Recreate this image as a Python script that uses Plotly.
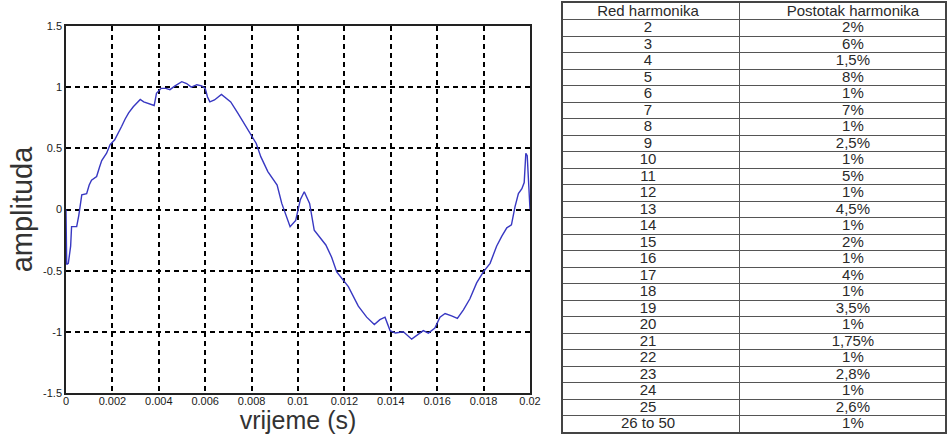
import plotly.graph_objects as go

# ---- waveform ----
time_s = [0.00000, 0.00003, 0.00010, 0.00020, 0.00024, 0.00046, 0.00055, 0.00062, 0.00068, 0.00089,
          0.00100, 0.00110, 0.00132, 0.00145, 0.00154, 0.00175, 0.00190, 0.00210, 0.00225, 0.00240,
          0.00255, 0.00270, 0.00290, 0.00305, 0.00320, 0.00335, 0.00350, 0.00365, 0.00380, 0.00390,
          0.00410, 0.00430, 0.00448, 0.00470, 0.00485, 0.00499, 0.00520, 0.00540, 0.00564, 0.00585,
          0.00600, 0.00610, 0.00620, 0.00640, 0.00670, 0.00710, 0.00740, 0.00790, 0.00820, 0.00840,
          0.00870, 0.00910, 0.00930, 0.00966, 0.00990, 0.01010, 0.01027, 0.01050, 0.01070, 0.01120,
          0.01145, 0.01167, 0.01217, 0.01260, 0.01296, 0.01329, 0.01353, 0.01375, 0.01397, 0.01420,
          0.01454, 0.01490, 0.01519, 0.01540, 0.01562, 0.01590, 0.01612, 0.01634, 0.01662, 0.01687,
          0.01713, 0.01741, 0.01770, 0.01799, 0.01828, 0.01856, 0.01878, 0.01900, 0.01920, 0.01935,
          0.01950, 0.01965, 0.01975, 0.01982, 0.01988, 0.01995, 0.02000]
amplitude = [0.00, -0.45, -0.44, -0.30, -0.14, -0.14, -0.05, 0.05, 0.12, 0.13,
             0.20, 0.24, 0.27, 0.35, 0.40, 0.46, 0.53, 0.57, 0.62, 0.68,
             0.74, 0.79, 0.84, 0.87, 0.90, 0.88, 0.87, 0.86, 0.85, 0.95,
             0.99, 0.99, 0.98, 1.01, 1.03, 1.045, 1.03, 1.00, 1.02, 1.01,
             0.99, 0.92, 0.88, 0.895, 0.94, 0.88, 0.79, 0.64, 0.54, 0.43,
             0.31, 0.20, 0.05, -0.14, -0.09, 0.08, 0.145, 0.05, -0.17, -0.29,
             -0.39, -0.51, -0.63, -0.79, -0.88, -0.94, -0.90, -0.88, -0.99, -1.01,
             -1.00, -1.06, -1.02, -0.99, -1.01, -0.97, -0.88, -0.85, -0.87, -0.89,
             -0.82, -0.73, -0.60, -0.51, -0.44, -0.30, -0.22, -0.15, -0.125, 0.02,
             0.13, 0.17, 0.22, 0.46, 0.44, 0.22, 0.00]

x_tickvals = [0, 0.002, 0.004, 0.006, 0.008, 0.01, 0.012, 0.014, 0.016, 0.018, 0.02]
x_ticktext = ["0", "0.002", "0.004", "0.006", "0.008", "0.01", "0.012", "0.014", "0.016", "0.018", "0.02"]
y_tickvals = [-1.5, -1, -0.5, 0, 0.5, 1, 1.5]
y_ticktext = ["-1.5", "-1", "-0.5", "0", "0.5", "1", "1.5"]

# ---- table ----
table_header = ["Red harmonika", "Postotak harmonika"]
harmonic_order = ["2", "3", "4", "5", "6", "7", "8", "9", "10", "11", "12", "13", "14", "15",
                  "16", "17", "18", "19", "20", "21", "22", "23", "24", "25", "26 to 50"]
harmonic_percent = ["2%", "6%", "1,5%", "8%", "1%", "7%", "1%", "2,5%", "1%", "5%", "1%", "4,5%", "1%", "2%",
                    "1%", "4%", "1%", "3,5%", "1%", "1,75%", "1%", "2,8%", "1%", "2,6%", "1%"]

W, H = 947, 434

fig = go.Figure()
fig.add_trace(go.Scatter(x=time_s, y=amplitude, mode="lines",
                         line=dict(color="#3838c2", width=1.4), showlegend=False,
                         xaxis="x", yaxis="y"))

# table drawn on its own axes: one row per unit, columns as fractions of width
col1 = [table_header[0]] + harmonic_order
col2 = [table_header[1]] + harmonic_percent
n_rows = len(col1)
row_y = [i + 0.56 for i in range(n_rows)]
tfont = dict(family="Liberation Sans, Arial", size=15, color="#2a2a2a")
fig.add_trace(go.Scatter(x=[0.2225] * n_rows, y=row_y, text=col1, mode="text",
                         textfont=tfont, textposition="middle center", showlegend=False,
                         xaxis="x2", yaxis="y2", hoverinfo="skip"))
fig.add_trace(go.Scatter(x=[0.759] * n_rows, y=row_y, text=col2, mode="text",
                         textfont=tfont, textposition="middle center", showlegend=False,
                         xaxis="x2", yaxis="y2", hoverinfo="skip"))

tickfont = dict(family="Liberation Sans, Arial", size=11, color="#1a1a1a")
fig.update_layout(
    width=W, height=H,
    margin=dict(l=0, r=0, t=0, b=0),
    paper_bgcolor="white", plot_bgcolor="white",
    xaxis=dict(domain=[66 / W, 530 / W], range=[0, 0.02], tickvals=x_tickvals, ticktext=x_ticktext,
               showgrid=True, gridcolor="black", gridwidth=1.5, griddash="5px,4px",
               showline=True, linecolor="#222222", linewidth=1.5, mirror=True,
               zeroline=False, ticks="", tickfont=tickfont, automargin=False, ticklabelstandoff=-3,
               title=dict(text="vrijeme (s)", font=dict(family="Liberation Sans, Arial", size=25, color="#333333"),
                          standoff=6)),
    yaxis=dict(domain=[(H - 393) / H, (H - 26) / H], range=[-1.5, 1.5], tickvals=y_tickvals, ticktext=y_ticktext,
               showgrid=True, gridcolor="black", gridwidth=1.5, griddash="5px,4px",
               showline=True, linecolor="#222222", linewidth=1.5, mirror=True,
               zeroline=False, ticks="", tickfont=tickfont, automargin=False,
               title=dict(text="amplituda", font=dict(family="Liberation Sans, Arial", size=29, color="#333333"),
                          standoff=2)),
    xaxis2=dict(domain=[563 / W, 945 / W], range=[0, 1], tickvals=[0.463],
                showgrid=True, gridcolor="#555555", gridwidth=1.2, showticklabels=False,
                showline=True, linecolor="#444444", linewidth=1.5, mirror=True,
                zeroline=False, ticks="", automargin=False, anchor="y2"),
    yaxis2=dict(domain=[(H - 432) / H, (H - 3) / H], range=[n_rows, 0], tickvals=list(range(1, n_rows)),
                showgrid=True, gridcolor="#555555", gridwidth=1.2, showticklabels=False,
                showline=True, linecolor="#444444", linewidth=1.5, mirror=True,
                zeroline=False, ticks="", automargin=False, anchor="x2"),
)

fig.write_html("out.html")
